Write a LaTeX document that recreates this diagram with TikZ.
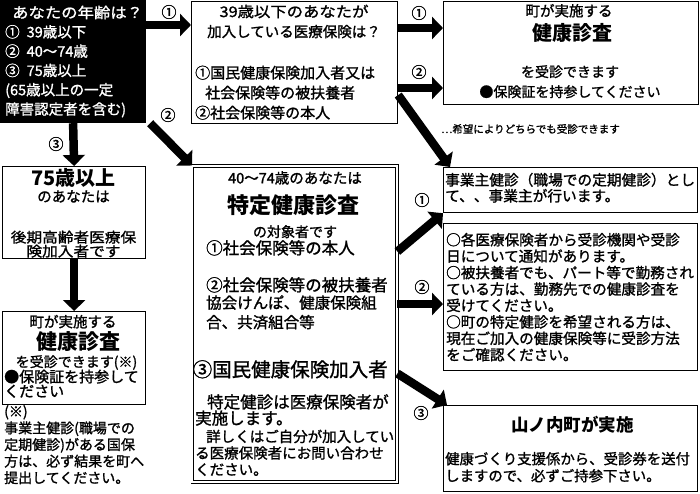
\documentclass[tikz,border=0pt]{standalone}
\usepackage{fontspec}
\setmainfont{Noto Sans CJK JP}[UprightFeatures={FakeBold=1.3}]
\newfontfamily\widefont{Noto Sans CJK JP}[FakeStretch=1.12, UprightFeatures={FakeBold=1.3}]
\usetikzlibrary{arrows.meta}
\newcommand{\fsz}[2]{\fontsize{#1}{#2}\selectfont}
\begin{document}
\begin{tikzpicture}[x=1pt,y=-1pt,
  box/.style={draw, line width=1.2pt, inner sep=0pt, anchor=north west},
  dbox/.style={draw, double, double distance=2pt, line width=0.9pt, inner sep=0pt, anchor=north west},
  fat/.style={line width=8.5pt, -{Triangle[width=22pt,length=11pt]}},
  num/.style={font=\fsz{15}{15}, inner sep=0pt},
  txt/.style={inner sep=0pt, align=left, anchor=north west},
  ctxt/.style={inner sep=0pt, align=center, anchor=north}]
\useasboundingbox (0,0) rectangle (700,493);
% boxes
\node[box, fill=black, minimum width=145pt, minimum height=122pt] (age) at (0,0) {};
\node[box, minimum width=206pt, minimum height=122pt] (b39) at (191,1) {};
\node[box, minimum width=255pt, minimum height=103pt] (tr) at (443,1) {};
\node[box, minimum width=143pt, minimum height=92pt] (b75) at (2,166) {};
\node[box, minimum width=143pt, minimum height=93pt] (bl) at (2,311) {};
\node[dbox, minimum width=204.5pt, minimum height=316pt] (b40) at (192,165.5) {};
\node[box, minimum width=254pt, minimum height=45pt] (job) at (443,167) {};
\node[box, minimum width=254pt, minimum height=147pt] (info) at (443,223) {};
\node[box, minimum width=254pt, minimum height=86pt] (yama) at (443,405) {};
% texts
\node[txt, text=white, font=\fsz{14.5}{19.3}] (ageT) at (5,5.5) {\hspace*{7pt}{\widefont\fsz{14.6}{19.3}あなたの年齢は？}\\①\hspace{7pt}39歳以下\\②\hspace{7pt}40〜74歳\\③\hspace{7pt}75歳以上\\(65歳以上の一定\\障害認定者を含む)};
\node[ctxt, font=\fsz{14.5}{20}] (q1) at (294,4.5) {{\widefont\fsz{14.6}{20}39歳以下のあなたが}\\加入している医療保険は？};
\node[txt, font=\fsz{15}{20}] (q2) at (195,65.5) {①国民健康保険加入者又は\\\hspace*{10pt}社会保険等の被扶養者\\②社会保険等の本人};
\node[ctxt, font=\fsz{14.5}{14.5}] (t1) at (569,3.8) {町が実施する};
\node[ctxt, font=\bfseries\fsz{20}{20}] (t2) at (572,23) {健康診査};
\node[ctxt, font=\fsz{14}{20}] (t3) at (570,65) {を受診できます\\●保険証を持参してください};
\node[inner sep=0pt, anchor=west, font=\fsz{10.5}{12}] (hope) at (441,129) {…希望によりどちらでも受診できます};
\node[ctxt, font=\bfseries\fsz{20}{20}] (s1) at (73.5,168) {75歳以上};
\node[ctxt, font=\fsz{14.5}{14.5}] (s2) at (73.5,190) {のあなたは};
\node[ctxt, font=\widefont\fsz{14}{14}] (s3) at (73.5,230.5) {後期高齢者医療保\\険加入者です};
\node[ctxt, font=\fsz{14.5}{14.5}] (u1) at (73,314.7) {町が実施する};
\node[ctxt, font=\bfseries\fsz{21}{21}] (u2) at (78,331.5) {健康診査};
\node[ctxt, font=\fsz{14}{14}] (u3) at (76.5,355) {を受診できます(※)};
\node[txt, font=\fsz{15}{14.5}] (u4) at (4,369.5) {●保険証を持参して\\ください};
\node[txt, font=\fsz{14}{16.6}] (u5) at (4,405) {(※)\\事業主健診(職場での\\定期健診)がある国保\\方は、必ず結果を町へ\\提出してください。};
\node[ctxt, font=\fsz{14.5}{14.5}] (v1) at (295,171) {40〜74歳のあなたは};
\node[ctxt, font=\bfseries\fsz{22}{22}] (v2) at (293,194) {特定健康診査};
\node[ctxt, font=\fsz{14}{14}] (v3) at (295,225) {の対象者です};
\node[txt, font=\fsz{16.5}{16.5}] (v4) at (206,240) {①社会保険等の本人};
\node[txt, font=\fsz{16.5}{16.5}] (v5) at (206,277) {②社会保険等の被扶養者};
\node[txt, font=\fsz{15.5}{19.5}] (v6) at (206,295) {協会けんぽ、健康保険組\\合、共済組合等};
\node[txt, font=\fsz{19.5}{19.5}] (v7) at (192.5,360) {③国民健康保険加入者};
\node[txt, font=\fsz{16.5}{16.2}] (v8) at (195,394) {\hspace*{12pt}特定健診は医療保険者が\\実施します。};
\node[txt, font=\fsz{14.5}{16.5}] (v9) at (195,429.5) {\hspace*{11pt}詳しくはご自分が加入してい\\る医療保険者にお問い合わせ\\ください。};
\node[txt, font=\fsz{14.7}{16}] (j1) at (445,172.6) {事業主健診（職場での定期健診）とし\\て、、事業主が行います。};
\node[txt, font=\fsz{14.6}{16.43}] (i1) at (446,232.7) {○各医療保険者から受診機関や受診\\日について通知があります。\\○被扶養者でも、パート等で勤務され\\ている方は、勤務先での健康診査を\\受けてください。\\○町の特定健診を希望される方は、\\現在ご加入の健康保険等に受診方法\\をご確認ください。};
\node[ctxt, font=\bfseries\fsz{17.5}{17.5}] (y1) at (572.5,416) {山ノ内町が実施};
\node[txt, font=\fsz{14.4}{17}] (y2) at (445,451.8) {健康づくり支援係から、受診券を送付\\しますので、必ずご持参下さい。};
% arrow labels
\node[num] (l1) at (169,12) {①};
\node[num] (l2) at (168,115) {②};
\node[num] (l3) at (56,144) {③};
\node[num] (l4) at (419,13) {①};
\node[num] (l5) at (419,72) {②};
\node[num] (l6) at (422,200) {①};
\node[num] (l7) at (422,287) {②};
\node[num] (l8) at (421,413) {③};
% arrows
\draw[fat] ([yshift=-25pt]age.north east) -- ([yshift=-24pt]b39.north west);
\draw[fat] ([xshift=4pt]age.south east) -- (b40.north west);
\draw[fat] (age.south) -- (b75.north);
\draw[fat] (b75.south) -- (bl.north);
\draw[fat] ([yshift=-27pt]b39.north east) -- ([yshift=-27pt]tr.north west);
\draw[fat] ([yshift=-87pt]b39.north east) -- ([yshift=-87pt]tr.north west);
\draw[fat] ([yshift=-94pt]b39.north east) -- ([xshift=7pt]job.north west);
\draw[fat] ([yshift=-86pt]b40.north east) -- (job.south west);
\draw[fat] ([yshift=-138.5pt]b40.north east) -- ([yshift=-81pt]info.north west);
\draw[fat] ([yshift=-208pt]b40.north east) -- ([xshift=4pt]yama.north west);
\end{tikzpicture}
\end{document}
